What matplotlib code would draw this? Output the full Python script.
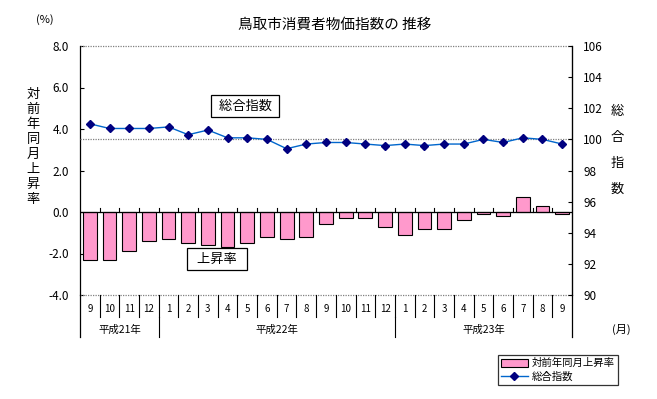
import numpy as np
import matplotlib
matplotlib.use("Agg")
import matplotlib.pyplot as plt
import matplotlib.transforms as mtransforms
from matplotlib.lines import Line2D
from matplotlib.patches import Patch

plt.rcParams['font.family'] = ['Noto Sans CJK JP', 'DejaVu Sans']

# ── data ────────────────────────────────────────────
months = ["9", "10", "11", "12",
          "1", "2", "3", "4", "5", "6", "7", "8", "9", "10", "11", "12",
          "1", "2", "3", "4", "5", "6", "7", "8", "9"]
years = ["平成21年", "平成22年", "平成23年"]
year_spans = [(0, 4), (4, 16), (16, 25)]

rate = [-2.3, -2.3, -1.9, -1.4,
        -1.3, -1.5, -1.6, -1.7, -1.5, -1.2, -1.3, -1.2, -0.6, -0.3, -0.3, -0.7,
        -1.1, -0.8, -0.8, -0.4, -0.1, -0.2, 0.7, 0.3, -0.1]
index = [101.0, 100.7, 100.7, 100.7,
         100.8, 100.3, 100.6, 100.1, 100.1, 100.0, 99.4, 99.7, 99.8, 99.8, 99.7, 99.6,
         99.7, 99.6, 99.7, 99.7, 100.0, 99.8, 100.1, 100.0, 99.7]

left_ticks = [-4.0, -2.0, 0.0, 2.0, 4.0, 6.0, 8.0]
right_ticks = [90, 92, 94, 96, 98, 100, 102, 104, 106]

# ── figure ──────────────────────────────────────────
fig = plt.figure(figsize=(6.57, 3.99), dpi=100)
ax = fig.add_axes([80 / 657, 1 - 295 / 399, 492 / 657, 249 / 399])
ax2 = ax.twinx()

x = np.arange(len(months))
ax.bar(x, rate, width=0.7, color="#FF99CC", edgecolor="black", linewidth=0.8, zorder=3)
ax.set_xlim(-0.5, len(months) - 0.5)
ax.set_ylim(-4, 8)
ax.set_yticks(left_ticks)
ax.set_yticklabels([f"{v:.1f}" for v in left_ticks], fontsize=8.5)
ax.tick_params(axis="y", direction="in", length=3, width=0.8, pad=8)
ax.set_xticks([])

# zero line with category ticks
ax.axhline(0, color="black", lw=0.9, zorder=4)
for b in np.arange(0.5, len(months) - 0.5, 1):
    ax.plot([b, b], [0, 0.18], color="black", lw=0.8, zorder=4)

for s in ["top", "bottom"]:
    ax.spines[s].set_visible(False)
ax.axhline(8, color="#808080", lw=0.9, ls=(0, (1, 1)), clip_on=False)
ax.axhline(-4, color="#808080", lw=0.9, ls=(0, (1, 1)), clip_on=False)
ax.spines["left"].set_linewidth(0.9)

ax2.plot(x, index, color="#0066CC", lw=1.0, marker="D", markersize=4.2,
         markerfacecolor="#000080", markeredgecolor="#000080", zorder=5)
ax2.set_ylim(90, 106)
ax2.set_yticks(right_ticks)
ax2.set_yticklabels([str(v) for v in right_ticks], fontsize=8.5)
ax2.tick_params(axis="y", direction="in", length=3, width=0.8, pad=8)
ax2.axhline(100, color="#808080", lw=0.9, ls=(0, (1, 1)), zorder=1)
for s in ["top", "bottom", "left"]:
    ax2.spines[s].set_visible(False)
ax2.spines["right"].set_linewidth(0.9)

# category table below the plot
tr = mtransforms.blended_transform_factory(ax.transData, ax.transAxes)
row1 = -22 / 249
row2 = -42 / 249
for b in np.arange(0.5, len(months) - 0.5, 1):
    ax.plot([b, b], [0, row1], transform=tr, color="black", lw=0.8, clip_on=False)
for edge in [-0.5, len(months) - 0.5]:
    ax.plot([edge, edge], [0, row2], transform=tr, color="black", lw=0.9, clip_on=False)
for (a, b) in year_spans[:-1]:
    ax.plot([b - 0.5, b - 0.5], [row1, row2], transform=tr, color="black", lw=0.8, clip_on=False)
for i, m in enumerate(months):
    ax.text(i, -14 / 249, m, transform=tr, ha="center", va="center", fontsize=7)
for yname, (a, b) in zip(years, year_spans):
    ax.text((a + b - 1) / 2, -35 / 249, yname, transform=tr, ha="center", va="center", fontsize=7.5)

# labels
fig.text(335 / 657, 1 - 25 / 399, "鳥取市消費者物価指数の 推移", ha="center", va="center", fontsize=10.5)
fig.text(45 / 657, 1 - 20 / 399, "(%)", ha="center", va="center", fontsize=8)
fig.text(33 / 657, 1 - 147 / 399, "\n".join("対前年同月上昇率"), ha="center", va="center",
         fontsize=9.5, linespacing=1.2)
fig.text(617 / 657, 1 - 150 / 399, "\n".join("総合指数"), ha="center", va="center",
         fontsize=9.5, linespacing=2.3)
fig.text(621 / 657, 1 - 329 / 399, "(月)", ha="center", va="center", fontsize=8)

box = dict(boxstyle="square,pad=0.35", facecolor="white", edgecolor="black", linewidth=0.9)
fig.text(245 / 657, 1 - 106 / 399, " 総合指数 ", ha="center", va="center", fontsize=9.5, bbox=box, zorder=10)
fig.text(217 / 657, 1 - 259 / 399, "  上昇率  ", ha="center", va="center", fontsize=9.5, bbox=box, zorder=10)

handles = [Patch(facecolor="#FF99CC", edgecolor="black", linewidth=0.8),
           Line2D([], [], color="#0066CC", lw=1.0, marker="D", markersize=4,
                  markerfacecolor="#000080", markeredgecolor="#000080")]
leg = fig.legend(handles, ["対前年同月上昇率", "総合指数"], loc="center",
                 bbox_to_anchor=(558 / 657, 1 - 370 / 399), fontsize=7.5, frameon=True,
                 fancybox=False, edgecolor="black", handlelength=2.6, handleheight=0.8,
                 borderpad=0.3, labelspacing=0.3, handletextpad=0.4)
leg.get_frame().set_linewidth(0.9)

fig.savefig("out.png", dpi=100)
